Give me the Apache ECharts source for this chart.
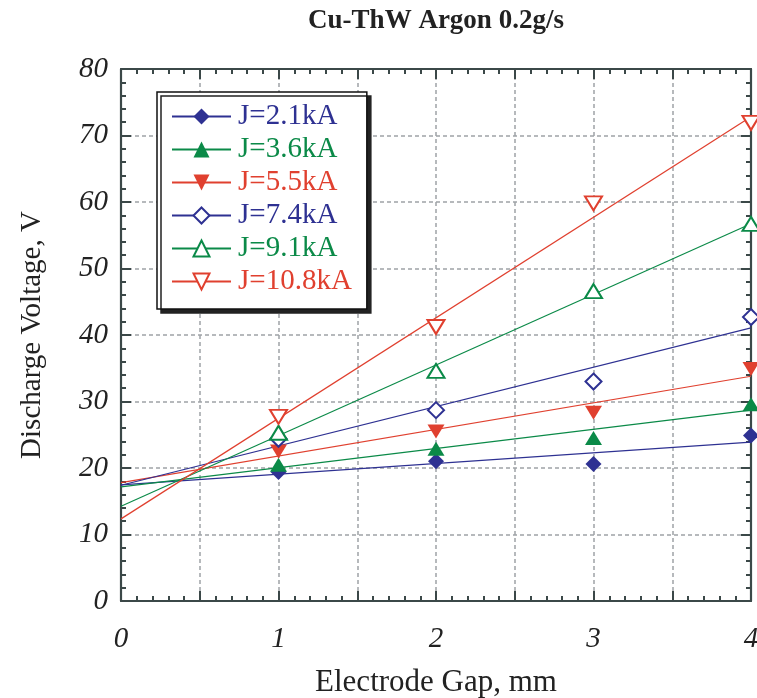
<!DOCTYPE html>
<html><head><meta charset="utf-8">
<script src="https://cdn.jsdelivr.net/npm/echarts@6/dist/echarts.min.js"></script>
<style>html,body{margin:0;padding:0;background:#fff}#c{width:757px;height:698px}</style>
</head><body><div id="c"></div>
<script>
// Data
const gaps = [1, 2, 3, 4];
const seriesNames = ['J=2.1kA', 'J=3.6kA', 'J=5.5kA', 'J=7.4kA', 'J=9.1kA', 'J=10.8kA'];
const v21 = [19.4, 21.0, 20.6, 24.9];
const v36 = [20.5, 22.9, 24.5, 29.6];
const v55 = [22.5, 25.5, 28.3, 34.9];
const v74 = [24.4, 28.7, 33.0, 42.7];
const v91 = [25.3, 34.6, 46.6, 56.7];
const v108 = [27.7, 41.2, 59.8, 71.9];
const xTicks = [0, 1, 2, 3, 4];
const yTicks = [0, 10, 20, 30, 40, 50, 60, 70, 80];

const BLUE = '#2e3192', GREEN = '#0b8a48', RED = '#e0402f';
const styles = [
  {c: BLUE, sym: 'diamond', rot: 0, size: [16, 16]},
  {c: GREEN, sym: 'triangle', rot: 0, size: [17, 14]},
  {c: RED, sym: 'triangle', rot: 180, size: [17, 14]},
  {c: BLUE, sym: 'emptyDiamond', rot: 0, size: [16, 16]},
  {c: GREEN, sym: 'emptyTriangle', rot: 0, size: [17, 14]},
  {c: RED, sym: 'emptyTriangle', rot: 180, size: [17, 14]}
];
const allVals = [v21, v36, v55, v74, v91, v108];

function fit(xs, ys) {
  const n = xs.length;
  const mx = xs.reduce((a, b) => a + b, 0) / n;
  const my = ys.reduce((a, b) => a + b, 0) / n;
  let sxy = 0, sxx = 0;
  for (let i = 0; i < n; i++) { sxy += (xs[i] - mx) * (ys[i] - my); sxx += (xs[i] - mx) ** 2; }
  const m = sxy / sxx;
  return {m: m, b: my - m * mx};
}

const SERIF = '"Liberation Serif","Times New Roman",serif';
const series = [];
allVals.forEach((vals, i) => {
  const f = fit(gaps, vals);
  const x0 = xTicks[0], x1 = xTicks[xTicks.length - 1];
  series.push({
    name: seriesNames[i], type: 'line', xAxisIndex: 0, yAxisIndex: 0,
    data: [[x0, f.b + f.m * x0], [x1, f.b + f.m * x1]],
    showSymbol: false, symbol: styles[i].sym, symbolRotate: styles[i].rot,
    itemStyle: {color: styles[i].c, borderWidth: 1.5},
    lineStyle: {color: styles[i].c, width: 1.2},
    silent: true, animation: false, z: 2
  });
});
allVals.forEach((vals, i) => {
  series.push({
    name: seriesNames[i] + ' data', type: 'scatter', xAxisIndex: 0, yAxisIndex: 0,
    data: gaps.map((g, k) => [g, vals[k]]),
    symbol: styles[i].sym, symbolRotate: styles[i].rot, symbolSize: styles[i].size,
    itemStyle: {color: styles[i].c, borderColor: styles[i].c, borderWidth: styles[i].sym.indexOf('empty') === 0 ? 1.5 : 0, opacity: 1},
    animation: false, z: 3
  });
});

const AX = '#3b4848';
const mkLine = () => ({show: true, onZero: false, lineStyle: {color: AX, width: 2.2}});
const mkSplit = () => ({show: true, lineStyle: {color: '#9ea2a6', width: 1.5, type: [4, 3]}});
const mkTick = () => ({show: true, inside: true, length: 10, lineStyle: {color: AX, width: 2}});
const mkMinor = () => ({show: true, splitNumber: 5, length: 5, lineStyle: {color: AX, width: 2}});
const labelStyle = {fontFamily: SERIF, fontStyle: 'italic', fontSize: 29, color: '#222'};

const xBase = () => ({type: 'value', min: xTicks[0], max: xTicks[xTicks.length - 1], interval: 0.5});
const yBase = () => ({type: 'value', min: yTicks[0], max: yTicks[yTicks.length - 1], interval: 10});

const option = {
  animation: false,
  backgroundColor: '#fff',
  title: {
    text: 'Cu-ThW Argon 0.2g/s', left: 431, top: 3, textAlign: 'center',
    textStyle: {fontFamily: SERIF, fontWeight: 'bold', fontSize: 27, color: '#222'}
  },
  grid: {left: 121, right: 6, top: 69, bottom: 97, containLabel: false, outerBoundsMode: 'none'},
  xAxis: [
    Object.assign(xBase(), {
      position: 'bottom', axisLine: mkLine(), splitLine: mkSplit(), axisTick: mkTick(),
      minorTick: mkMinor(),
      axisLabel: Object.assign({}, labelStyle, {margin: 24, showMaxLabel: true, hideOverlap: false,
        formatter: v => (xTicks.indexOf(v) >= 0 ? String(v) : '')}),
      name: 'Electrode Gap, mm', nameLocation: 'middle', nameGap: 66,
      nameTextStyle: {fontFamily: SERIF, fontSize: 31, color: '#222'}
    }),
    Object.assign(xBase(), {
      position: 'top', axisLine: mkLine(), splitLine: {show: false}, axisTick: mkTick(),
      minorTick: mkMinor(), axisLabel: {show: false}
    })
  ],
  yAxis: [
    Object.assign(yBase(), {
      position: 'left', axisLine: mkLine(), splitLine: mkSplit(), axisTick: mkTick(),
      minorTick: mkMinor(),
      axisLabel: Object.assign({}, labelStyle, {margin: 13,
        formatter: v => (yTicks.indexOf(v) >= 0 ? String(v) : '')}),
      name: 'Discharge Voltage, V', nameLocation: 'middle', nameGap: 74,
      nameTextStyle: {fontFamily: SERIF, fontSize: 29, color: '#222'}
    }),
    Object.assign(yBase(), {
      position: 'right', axisLine: mkLine(), splitLine: {show: false}, axisTick: mkTick(),
      minorTick: mkMinor(), axisLabel: {show: false}
    })
  ],
  legend: {
    orient: 'vertical', left: 157, top: 92,
    padding: [10, 15, 13, 14],
    itemWidth: 59, itemHeight: 20, itemGap: 4,
    backgroundColor: '#fff', borderColor: '#111', borderWidth: 1.5,
    shadowColor: '#222', shadowBlur: 0, shadowOffsetX: 4, shadowOffsetY: 4,
    selectedMode: false,
    textStyle: {fontFamily: SERIF, fontSize: 29, lineHeight: 29, padding: [0, 0, 0, 2]},
    data: seriesNames.map((n, i) => ({name: n, textStyle: {color: styles[i].c}}))
  },
  series: series
};

const chart = echarts.init(document.getElementById('c'), null, {renderer: 'canvas'});
chart.setOption(option);
</script>
</body></html>
